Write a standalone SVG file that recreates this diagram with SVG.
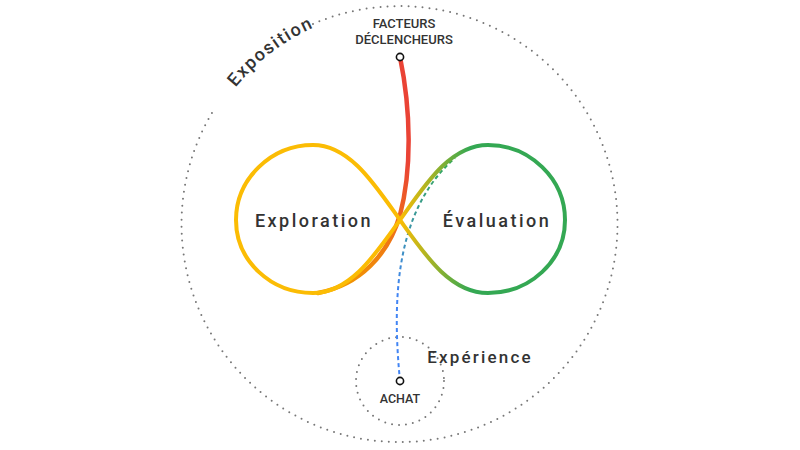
<svg xmlns="http://www.w3.org/2000/svg" width="800" height="450" viewBox="0 0 800 450">
<defs>
<style>
.lbl{font-family:Roboto,"Liberation Sans",sans-serif;fill:#333;font-weight:500}
.dots{fill:none;stroke:#777;stroke-width:2;stroke-linecap:round;stroke-dasharray:0 7}
.pin{fill:#fff;stroke:#111;stroke-width:1.6}
</style>
<linearGradient id="gGreen" gradientUnits="userSpaceOnUse" x1="400" y1="0" x2="470" y2="0">
<stop offset="0" stop-color="#FBBC04"/><stop offset="1" stop-color="#34A853"/>
</linearGradient>
<linearGradient id="gRed" gradientUnits="userSpaceOnUse" x1="0" y1="57" x2="0" y2="293">
<stop offset="0.45" stop-color="#EA4335"/><stop offset="1" stop-color="#F29900"/>
</linearGradient>
<linearGradient id="gBlue" gradientUnits="userSpaceOnUse" x1="0" y1="381" x2="0" y2="158">
<stop offset="0.4" stop-color="#4285F4"/><stop offset="1" stop-color="#34A853"/>
</linearGradient>
<path id="arcExpo" d="M211.9,123.4 A214,214 0 0 1 355.3,13.7"/>
</defs>
<g id="exposition">
<path class="dots" d="M313,24 A218,218 0 1 1 215,108"/>
<text class="lbl" font-size="18" letter-spacing="1.6"><textPath href="#arcExpo" startOffset="50%" text-anchor="middle">Exposition</textPath></text>
</g>
<g id="experience">
<circle class="dots" cx="400" cy="381" r="44"/>
<text class="lbl" x="480" y="363" font-size="17" letter-spacing="2.2" text-anchor="middle">Expérience</text>
</g>
<g id="connectors">
<path d="M400,57 C411,110 412,170 400,215 C388,255 360,285 318,293" fill="none" stroke="url(#gRed)" stroke-width="4.5" stroke-linecap="round"/>
<path d="M400,381 C392,300 395,210 455,158" fill="none" stroke="url(#gBlue)" stroke-width="2" stroke-dasharray="4 3"/>
</g>
<g id="exploration">
<path d="M400,220 C375,185 350,145 313,145 C271,145 236,179 236,220 C236,261 271,293 313,293 C350,293 375,255 400,220" fill="none" stroke="#FBBC04" stroke-width="4"/>
<text class="lbl" x="314" y="227" font-size="18" letter-spacing="2.5" text-anchor="middle">Exploration</text>
</g>
<g id="evaluation">
<path d="M400,220 C425,185 450,145 488,145 C530,145 565,179 565,220 C565,261 530,293 488,293 C450,293 425,255 400,220" fill="none" stroke="url(#gGreen)" stroke-width="4"/>
<text class="lbl" x="497" y="227" font-size="18" letter-spacing="2.5" text-anchor="middle">Évaluation</text>
</g>
<g id="facteurs">
<text class="lbl" x="404" y="28" font-size="13" text-anchor="middle">FACTEURS</text>
<text class="lbl" x="404" y="44" font-size="13" text-anchor="middle">DÉCLENCHEURS</text>
<circle class="pin" cx="400" cy="57" r="3.6"/>
</g>
<g id="achat">
<circle class="pin" cx="400" cy="381" r="3.6"/>
<text class="lbl" x="400" y="403" font-size="12.5" text-anchor="middle">ACHAT</text>
</g>
</svg>
